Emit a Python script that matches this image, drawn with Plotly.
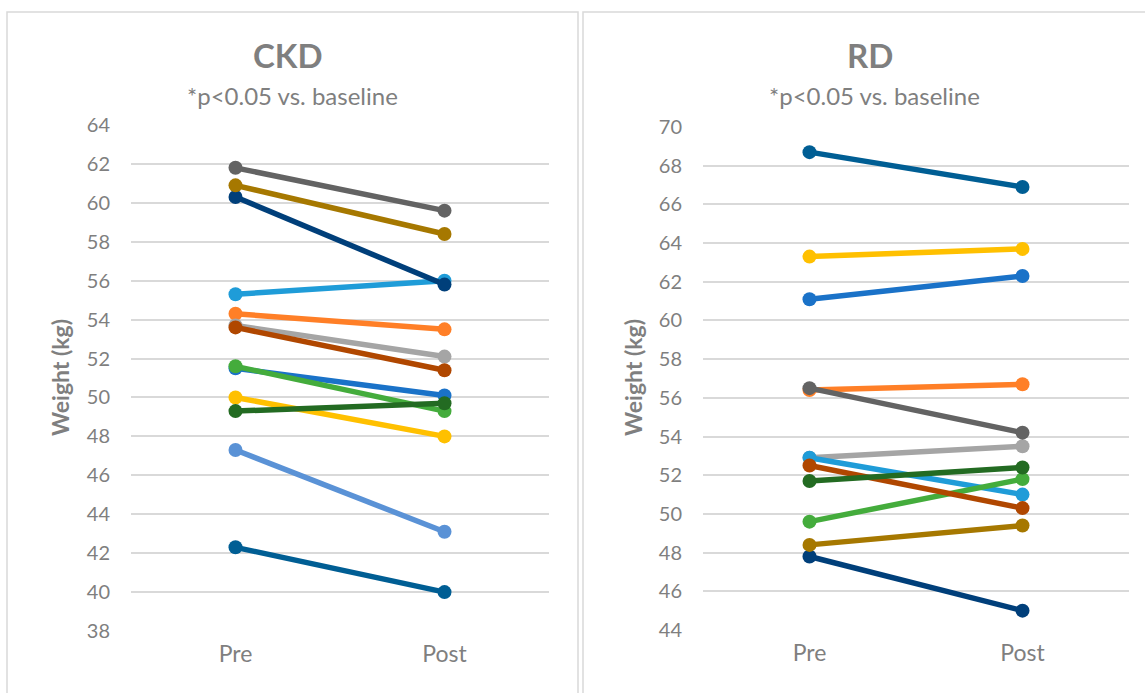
import plotly.graph_objects as go

W, H = 1145, 693

categories = ["Pre", "Post"]

# CKD group: body weight (kg) before and after
ckd_pre = [42.3, 54.3, 53.7, 50.0, 51.5, 55.3, 51.6, 60.3, 53.6, 61.8, 60.9, 49.3, 47.3]
ckd_post = [40.0, 53.5, 52.1, 48.0, 50.1, 56.0, 49.3, 55.8, 51.4, 59.6, 58.4, 49.7, 43.1]
ckd_colors = ["#005E94", "#FF7F27", "#A5A5A5", "#FFC000", "#1A72C8", "#1F9CD8",
              "#44AC3C", "#003F7A", "#B04700", "#636363", "#A67800", "#236B22", "#5A92D6"]

# RD group: body weight (kg) before and after
rd_pre = [68.7, 56.4, 52.9, 63.3, 52.9, 61.1, 49.6, 47.8, 52.5, 56.5, 48.4, 51.7]
rd_post = [66.9, 56.7, 53.5, 63.7, 51.0, 62.3, 51.8, 45.0, 50.3, 54.2, 49.4, 52.4]
rd_colors = ["#005E94", "#FF7F27", "#A5A5A5", "#FFC000", "#1F9CD8", "#1A72C8",
             "#44AC3C", "#003F7A", "#B04700", "#636363", "#A67800", "#236B22"]

ckd_ticks = list(range(38, 65, 2))
rd_ticks = list(range(44, 71, 2))

FONT = "Lato, Carlito, Calibri, sans-serif"
TEXT = "#7F7F7F"
GRID = "#D9D9D9"


def px(x):
    return x / W


def py(y):
    return 1 - y / H


fig = go.Figure()

for pre, post, c in zip(ckd_pre, ckd_post, ckd_colors):
    fig.add_trace(go.Scatter(
        x=categories, y=[pre, post], mode="lines+markers",
        line=dict(color=c, width=5.5), marker=dict(color=c, size=14),
        xaxis="x", yaxis="y", showlegend=False, hoverinfo="y"))

for pre, post, c in zip(rd_pre, rd_post, rd_colors):
    fig.add_trace(go.Scatter(
        x=categories, y=[pre, post], mode="lines+markers",
        line=dict(color=c, width=5.5), marker=dict(color=c, size=14),
        xaxis="x2", yaxis="y2", showlegend=False, hoverinfo="y"))

xcommon = dict(type="category", range=[-0.5, 1.5], showgrid=False, zeroline=False,
               showline=False, ticks="", ticklabelstandoff=7, automargin=False,
               tickfont=dict(family=FONT, size=23, color=TEXT))
ycommon = dict(showgrid=True, gridcolor=GRID, gridwidth=2, zeroline=False,
               showline=False, ticks="", ticklabelstandoff=20, automargin=False,
               tickfont=dict(family=FONT, size=20, color=TEXT))

fig.update_layout(
    width=W, height=H,
    margin=dict(l=0, r=0, t=0, b=0, pad=0, autoexpand=False),
    paper_bgcolor="white", plot_bgcolor="white",
    xaxis=dict(domain=[px(131), px(549)], anchor="y", **xcommon),
    yaxis=dict(domain=[py(631), py(125)], anchor="x", range=[38, 64],
               tickvals=ckd_ticks, **ycommon),
    xaxis2=dict(domain=[px(703), px(1129)], anchor="y2", **xcommon),
    yaxis2=dict(domain=[py(630), py(127)], anchor="x2", range=[44, 70],
                tickvals=rd_ticks, **ycommon),
)

# Panel frames
fig.add_shape(type="rect", xref="paper", yref="paper",
              x0=px(7), x1=px(578), y0=py(720), y1=py(12),
              line=dict(color=GRID, width=1.5), fillcolor="rgba(0,0,0,0)", layer="below")
fig.add_shape(type="rect", xref="paper", yref="paper",
              x0=px(583), x1=px(1170), y0=py(720), y1=py(12),
              line=dict(color=GRID, width=1.5), fillcolor="rgba(0,0,0,0)", layer="below")

# Titles, subtitles and axis titles
for cx, title, ax_x, ax_y in [(288, "CKD", 60, 378), (870, "RD", 633, 378)]:
    fig.add_annotation(x=px(cx), y=py(55), xref="paper", yref="paper",
                       text="<b>" + title + "</b>", showarrow=False,
                       font=dict(family=FONT, size=33, color=TEXT),
                       xanchor="center", yanchor="middle")
    fig.add_annotation(x=px(cx + 4), y=py(95), xref="paper", yref="paper",
                       text="*p<0.05 vs. baseline", showarrow=False,
                       font=dict(family=FONT, size=24, color=TEXT),
                       xanchor="center", yanchor="middle")
    fig.add_annotation(x=px(ax_x), y=py(ax_y), xref="paper", yref="paper",
                       text="<b>Weight (kg)</b>", showarrow=False, textangle=-90,
                       font=dict(family=FONT, size=23, color=TEXT),
                       xanchor="center", yanchor="middle")

fig.write_html("out.html")
